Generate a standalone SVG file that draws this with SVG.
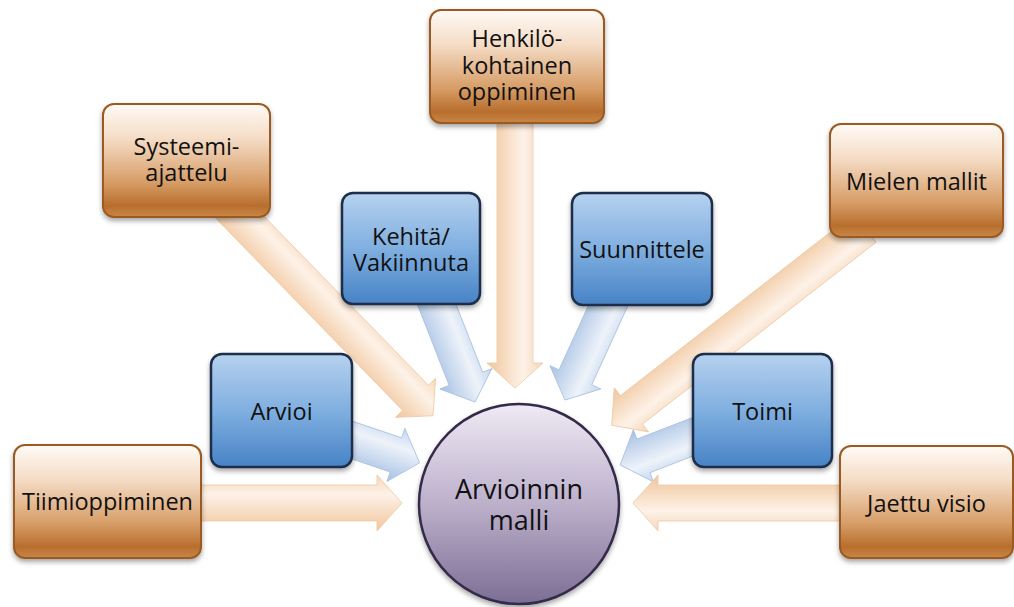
<svg xmlns="http://www.w3.org/2000/svg" width="1014" height="607" viewBox="0 0 1014 607">
<defs>
  <linearGradient id="gOrange" x1="0" y1="0" x2="0" y2="1">
    <stop offset="0" stop-color="#fffaf6"/>
    <stop offset="0.3" stop-color="#f5ddc7"/>
    <stop offset="0.7" stop-color="#d69c65"/>
    <stop offset="0.9" stop-color="#b86e2d"/>
    <stop offset="1" stop-color="#c98747"/>
  </linearGradient>
  <linearGradient id="gBlue" x1="0" y1="0" x2="0" y2="1">
    <stop offset="0" stop-color="#b6d1ef"/>
    <stop offset="0.5" stop-color="#80afe0"/>
    <stop offset="1" stop-color="#4783c6"/>
  </linearGradient>
  <linearGradient id="gCircle" x1="0" y1="0" x2="0" y2="1">
    <stop offset="0" stop-color="#efeaf4"/>
    <stop offset="0.5" stop-color="#bcb0cb"/>
    <stop offset="1" stop-color="#7b6e94"/>
  </linearGradient>
  <linearGradient id="gArrowO" x1="0" y1="0" x2="0" y2="1">
    <stop offset="0" stop-color="#f6d6b8"/>
    <stop offset="0.35" stop-color="#fdf2e8"/>
    <stop offset="1" stop-color="#f1c59a"/>
  </linearGradient>
  <linearGradient id="gArrowB" x1="0" y1="0" x2="0" y2="1">
    <stop offset="0" stop-color="#c2d5ee"/>
    <stop offset="0.35" stop-color="#eef3fa"/>
    <stop offset="1" stop-color="#a6c0e3"/>
  </linearGradient>
  <filter id="shadow" x="-20%" y="-20%" width="140%" height="150%">
    <feDropShadow dx="0" dy="3" stdDeviation="2.5" flood-color="#000" flood-opacity="0.35"/>
  </filter>
</defs>
<style>
  .orange { fill: url(#gOrange); stroke: #9a5a22; stroke-width: 2; filter: url(#shadow); }
  .blue { fill: url(#gBlue); stroke: #1c2e48; stroke-width: 2.5; filter: url(#shadow); }
  .circle { fill: url(#gCircle); stroke: #342a48; stroke-width: 2.5; filter: url(#shadow); }
  .arO { fill: url(#gArrowO); stroke: #ecc8a4; stroke-width: 0.8; }
  .arB { fill: url(#gArrowB); stroke: #a9c0de; stroke-width: 0.8; }
  text { font-family: "Open Sans", "Liberation Sans", sans-serif; font-size: 23.5px; fill: #111; text-anchor: middle; }
  .big { font-size: 27px; }
</style>
<rect width="1014" height="607" fill="#ffffff"/>

<g id="connectors">
  <path class="arO" transform="translate(195,503)" d="M0,-18 H182 V-28 L207,0 L182,28 V18 H0 Z"/>
  <path class="arB" transform="translate(340,436) rotate(18.65)" d="M0,-18 H59 V-28 L84,0 L59,28 V18 H0 Z"/>
  <path class="arO" transform="translate(228,205) rotate(45.8)" d="M0,-18 H269 V-28 L294,0 L269,28 V18 H0 Z"/>
  <path class="arB" transform="translate(433,295) rotate(68.57)" d="M0,-18 H90 V-28 L115,0 L90,28 V18 H0 Z"/>
  <path class="arO" transform="translate(515,115) rotate(90)" d="M0,-18 H248 V-28 L273,0 L248,28 V18 H0 Z"/>
  <path class="arB" transform="translate(613,295) rotate(114.57)" d="M0,-18 H90.5 V-28 L115.5,0 L90.5,28 V18 H0 Z"/>
  <path class="arO" transform="translate(865,228) rotate(142.09)" d="M0,-18 H296 V-28 L321,0 L296,28 V18 H0 Z"/>
  <path class="arB" transform="translate(705,432) rotate(158.78)" d="M0,-18 H66 V-28 L91,0 L66,28 V18 H0 Z"/>
  <path class="arO" transform="translate(846,503) rotate(180)" d="M0,-18 H188 V-28 L213,0 L188,28 V18 H0 Z"/>
</g>

<g id="node-center">
  <circle class="circle" cx="519" cy="504" r="100"/>
  <text class="big" x="519" y="499">Arvioinnin</text>
  <text class="big" x="519" y="530">malli</text>
</g>

<g id="node-tiimioppiminen">
  <rect class="orange" x="14" y="445" width="187" height="113" rx="11"/>
  <text x="107.5" y="510">Tiimioppiminen</text>
</g>

<g id="node-arvioi">
  <rect class="blue" x="211" y="354" width="141" height="113" rx="11"/>
  <text x="281.5" y="420">Arvioi</text>
</g>

<g id="node-systeemiajattelu">
  <rect class="orange" x="103" y="104" width="167" height="113" rx="11"/>
  <text x="186.5" y="155">Systeemi-</text>
  <text x="186.5" y="181">ajattelu</text>
</g>

<g id="node-kehita">
  <rect class="blue" x="342" y="193" width="138" height="111" rx="11"/>
  <text x="411" y="245">Kehitä/</text>
  <text x="411" y="271">Vakiinnuta</text>
</g>

<g id="node-henkilokohtainen">
  <rect class="orange" x="430" y="10" width="174" height="113" rx="11"/>
  <text x="517" y="47">Henkilö-</text>
  <text x="517" y="73.5">kohtainen</text>
  <text x="517" y="100">oppiminen</text>
</g>

<g id="node-suunnittele">
  <rect class="blue" x="572" y="193" width="140" height="112" rx="11"/>
  <text x="642" y="258">Suunnittele</text>
</g>

<g id="node-mielenmallit">
  <rect class="orange" x="830" y="124" width="173" height="113" rx="11"/>
  <text x="916.5" y="190">Mielen mallit</text>
</g>

<g id="node-toimi">
  <rect class="blue" x="693" y="354" width="139" height="113" rx="11"/>
  <text x="762.5" y="420">Toimi</text>
</g>

<g id="node-jaettuvisio">
  <rect class="orange" x="840" y="446" width="173" height="112" rx="11"/>
  <text x="926.5" y="512">Jaettu visio</text>
</g>
</svg>
